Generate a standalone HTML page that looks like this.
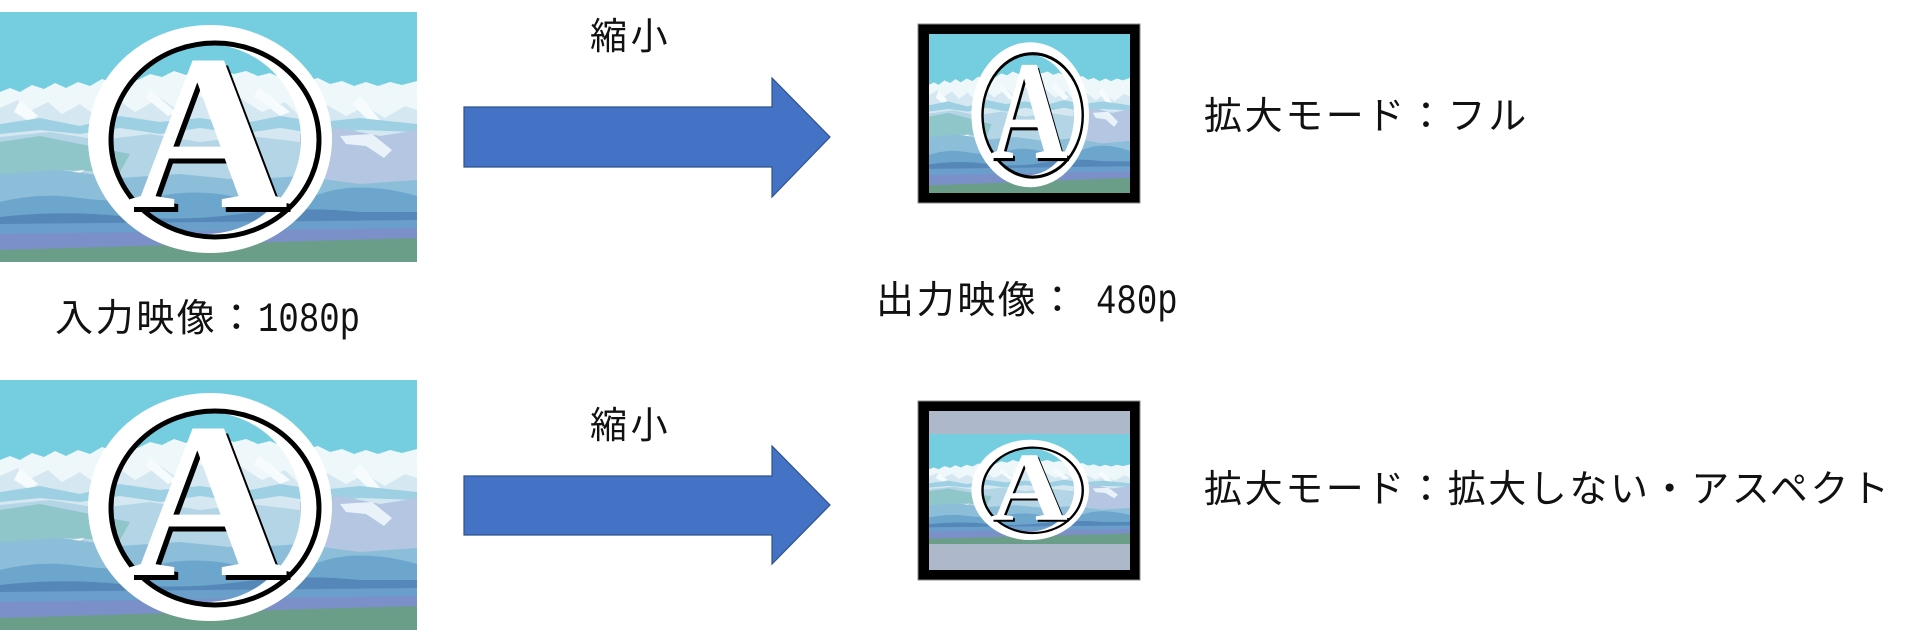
<!DOCTYPE html>
<html><head><meta charset="utf-8">
<style>
html,body{margin:0;padding:0;background:#fff;}
body{width:1920px;height:632px;position:relative;overflow:hidden;}
svg.main{position:absolute;left:0;top:0;}
.t{position:absolute;white-space:nowrap;line-height:1;color:#111;
 font-family:"Liberation Sans","Noto Sans CJK JP",sans-serif;font-size:38px;letter-spacing:2.6px;}
.s{font-size:37px;letter-spacing:3.6px;}
.d{display:inline-block;font-family:"Liberation Mono",monospace;font-size:42px;letter-spacing:0;
 line-height:1;transform:scaleX(0.81);transform-origin:0 0;}
</style></head>
<body>
<svg class="main" width="1920" height="632" viewBox="0 0 1920 632" xmlns="http://www.w3.org/2000/svg">
<defs>
<symbol id="land" viewBox="0 0 417 250" preserveAspectRatio="none">
<rect width="417" height="250" fill="#75CEE0"/>
<path fill="#EEF7FA" d="M0 80 L10 76 L20 80 L32 73 L44 77 L55 71 L66 76 L78 70 L90 74 L102 67 L114 71 L126 64 L138 68 L150 62 L162 65 L174 59 L186 63 L198 57 L210 61 L222 58 L234 62 L246 59 L258 64 L270 61 L282 66 L294 63 L306 69 L318 66 L330 72 L342 69 L354 74 L366 70 L378 74 L390 70 L402 73 L417 69 L417 250 L0 250Z"/>
<path fill="#D5E8F1" d="M0 96 L18 88 L30 99 L48 90 L62 102 L80 92 L96 104 L118 88 L135 100 L160 86 L178 98 L200 84 L214 96 L240 86 L262 100 L285 90 L300 104 L325 92 L346 104 L365 94 L385 106 L405 94 L417 98 L417 140 L0 140Z"/>
<path fill="#F6FBFD" d="M20 88 L38 104 L30 110 L14 100Z M150 78 L176 100 L168 104 L146 86Z M260 76 L290 100 L280 104 L254 84Z M360 84 L380 108 L372 112 L352 92Z"/>
<path fill="#9ED0E3" d="M0 112 L40 106 L80 114 L120 104 L160 110 L200 106 L240 112 L280 104 L320 110 L360 106 L417 112 L417 120 L360 118 L320 122 L280 116 L240 122 L200 116 L160 122 L120 116 L80 122 L40 118 L0 122Z"/>
<path fill="#B3D5E6" d="M0 125 L50 120 L100 128 L150 122 L200 130 L250 124 L300 130 L350 122 L417 126 L417 175 L0 175Z"/>
<path fill="#8FC6C9" d="M0 130 L40 124 L90 134 L130 142 L120 160 L60 158 L0 165Z"/>
<path fill="#B4C6E2" d="M300 122 L340 116 L380 124 L417 118 L417 180 L380 185 L330 175 L300 160Z"/>
<path fill="#E8F2F8" d="M340 124 L372 122 L392 138 L384 146 L366 134 L346 132Z"/>
<path fill="#FFFFFF" d="M42 172 Q60 160 85 158 Q70 166 50 176Z M86 194 Q100 186 118 184 Q104 192 90 198Z"/>
<path fill="#8CBEDA" d="M0 162 L60 158 L120 166 L180 162 L240 168 L300 164 L360 172 L417 168 L417 200 L0 200Z"/>
<path fill="#6CA6CC" d="M0 190 Q40 180 80 186 T160 184 T240 186 T320 182 T417 184 L417 210 L0 210Z"/>
<path fill="#5588B8" d="M0 205 Q60 198 120 204 T240 202 T360 200 L417 200 L417 212 L0 214Z"/>
<path fill="#6A9ECB" d="M0 212 L417 208 L417 222 L0 224Z"/>
<path fill="#7B90C8" d="M0 222 L417 216 L417 235 L0 240Z"/>
<path fill="#6B9E88" d="M0 238 Q200 232 417 226 L417 250 L0 250Z"/>
</symbol>
<symbol id="ring" viewBox="0 0 417 250" preserveAspectRatio="none">
<path fill="#fff" fill-rule="evenodd" d="M88,127 a122,114 0 1,0 244,0 a122,114 0 1,0 -244,0 Z M111,127 a95,95 0 1,0 190,0 a95,95 0 1,0 -190,0 Z"/>
<ellipse cx="215" cy="128" rx="104" ry="97" fill="none" stroke="#000" stroke-width="5"/>
</symbol>
</defs>

<!-- top-left picture -->
<svg x="0" y="12" width="417" height="250" viewBox="0 0 417 250" preserveAspectRatio="none">
<use href="#land" x="0" y="0" width="417" height="250"/>
<use href="#ring" x="0" y="0" width="417" height="250"/>
<text x="212" y="200" text-anchor="middle" font-family="Liberation Serif, serif" font-weight="bold" font-size="222" fill="#000">A</text>
<text x="208" y="195" text-anchor="middle" font-family="Liberation Serif, serif" font-weight="bold" font-size="222" fill="#fff">A</text>
</svg>

<!-- bottom-left picture -->
<svg x="0" y="380" width="417" height="250" viewBox="0 0 417 250" preserveAspectRatio="none">
<use href="#land" x="0" y="0" width="417" height="250"/>
<use href="#ring" x="0" y="0" width="417" height="250"/>
<text x="212" y="200" text-anchor="middle" font-family="Liberation Serif, serif" font-weight="bold" font-size="222" fill="#000">A</text>
<text x="208" y="195" text-anchor="middle" font-family="Liberation Serif, serif" font-weight="bold" font-size="222" fill="#fff">A</text>
</svg>

<!-- arrows -->
<polygon points="464,107 772,107 772,78 830,137 772,197 772,167 464,167" fill="#4472C4" stroke="#2F528F" stroke-width="1.2"/>
<polygon points="464,476 772,476 772,446 830,505 772,564 772,535 464,535" fill="#4472C4" stroke="#2F528F" stroke-width="1.2"/>

<!-- top-right thumbnail -->
<rect x="918" y="24" width="222" height="179" fill="#000" stroke="#8a8a8a" stroke-width="1"/>
<svg x="929" y="34" width="201" height="159" viewBox="0 0 417 250" preserveAspectRatio="none">
<use href="#land" x="0" y="0" width="417" height="250"/>
<use href="#ring" x="0" y="0" width="417" height="250"/>
<text x="212" y="200" text-anchor="middle" font-family="Liberation Serif, serif" font-weight="bold" font-size="222" fill="#000">A</text>
<text x="208" y="195" text-anchor="middle" font-family="Liberation Serif, serif" font-weight="bold" font-size="222" fill="#fff">A</text>
</svg>

<!-- bottom-right thumbnail -->
<rect x="918" y="401" width="222" height="179" fill="#000" stroke="#8a8a8a" stroke-width="1"/>
<rect x="929" y="411" width="201" height="159" fill="#ADB9CA"/>
<svg x="929" y="434" width="201" height="110" viewBox="0 0 417 250" preserveAspectRatio="none">
<use href="#land" x="0" y="0" width="417" height="250"/>
<use href="#ring" x="0" y="0" width="417" height="250"/>
<text x="212" y="200" text-anchor="middle" font-family="Liberation Serif, serif" font-weight="bold" font-size="222" fill="#000">A</text>
<text x="208" y="195" text-anchor="middle" font-family="Liberation Serif, serif" font-weight="bold" font-size="222" fill="#fff">A</text>
</svg>
</svg>

<div class="t s" style="left:590px;top:18px;">縮小</div>
<div class="t s" style="left:590px;top:407px;">縮小</div>
<div class="t" style="left:1204px;top:98px;">拡大モード：フル</div>
<div class="t" style="left:1204px;top:471px;">拡大モード：拡大しない・アスペクト</div>
<div class="t" style="left:55px;top:299px;">入力映像：<span class="d">1080p</span></div>
<div class="t" style="left:876px;top:281px;">出力映像：<span class="d" style="margin-left:17px;">480p</span></div>
</body></html>
